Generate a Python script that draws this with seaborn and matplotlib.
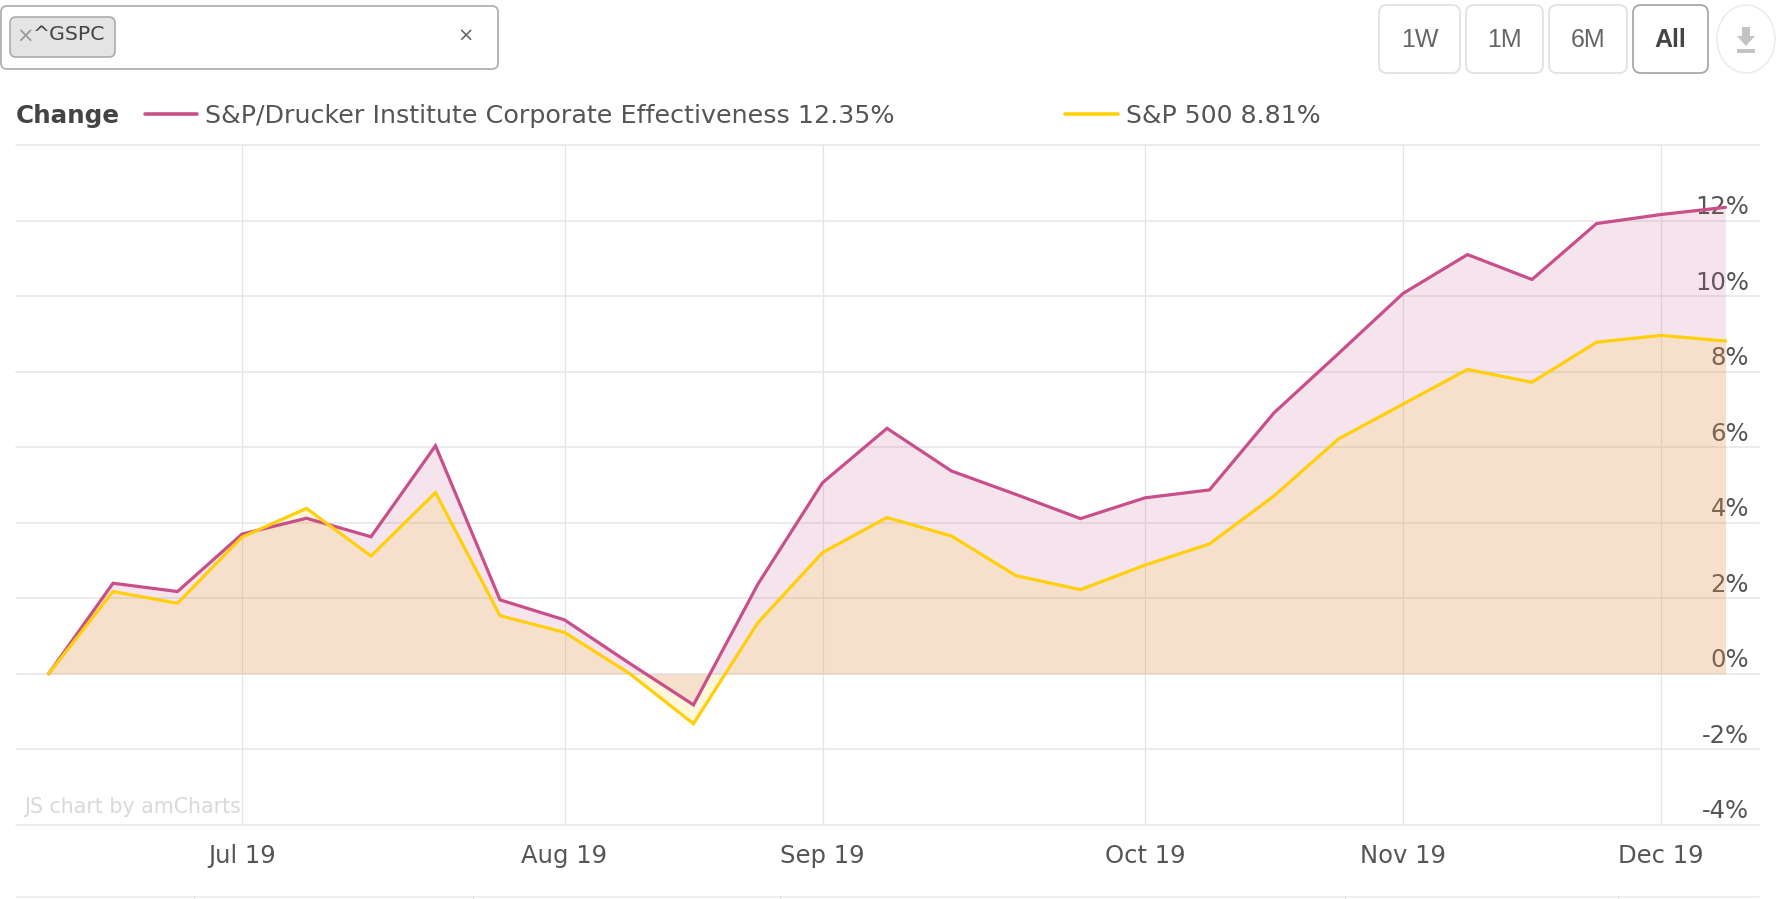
import numpy as np
import pandas as pd
import seaborn as sns
import matplotlib
matplotlib.use("Agg")
import matplotlib.pyplot as plt
from matplotlib.lines import Line2D
from matplotlib.patches import FancyBboxPatch, Ellipse, Polygon, Rectangle
from matplotlib.transforms import ScaledTranslation

drucker_name = "S&P/Drucker Institute Corporate Effectiveness"
sp500_name = "S&P 500"
drucker = [0, 2.40, 2.18, 3.70, 4.12, 3.63, 6.04, 1.96, 1.43, 0.29, -0.82, 2.38, 5.06, 6.50,
           5.37, 4.75, 4.11, 4.66, 4.87, 6.91, 8.48, 10.07, 11.10, 10.44, 11.92, 12.16, 12.35]
sp500 = [0, 2.18, 1.87, 3.62, 4.38, 3.12, 4.80, 1.54, 1.10, 0.02, -1.32, 1.36, 3.21, 4.14,
         3.65, 2.60, 2.23, 2.88, 3.44, 4.71, 6.22, 7.14, 8.06, 7.72, 8.78, 8.96, 8.81]
month_labels = ["Jul 19", "Aug 19", "Sep 19", "Oct 19", "Nov 19", "Dec 19"]
month_weeks = [3, 8, 12, 17, 21, 25]
y_ticks = [-4, -2, 0, 2, 4, 6, 8, 10, 12, 14]
y_labels = ["-4%", "-2%", "0%", "2%", "4%", "6%", "8%", "10%", "12%", ""]
range_buttons = ["1W", "1M", "6M", "All"]

PINK, YELLOW = "#c94f8b", "#ffcf0a"
TEXT, GRID = "#555555", "#e8e8e8"
W, H = 1779, 899
FS = 17.5
AX_L, AX_R = 16, 1759
X0, STEP = 48.5, 64.5

sns.set_theme(style="white")
plt.rcParams["font.family"] = ["DejaVu Sans"]
fig = plt.figure(figsize=(W / 100, H / 100), dpi=100, facecolor="white")
ax = fig.add_axes([AX_L / W, 1 - 825 / H, (AX_R - AX_L) / W, (825 - 145) / H])

weeks = np.arange(len(drucker))
df = pd.DataFrame({
    "week": np.concatenate([weeks, weeks]),
    "change": drucker + sp500,
    "series": [drucker_name] * len(weeks) + [sp500_name] * len(weeks),
})
ax.fill_between(weeks, drucker, 0, color=PINK, alpha=0.15, lw=0, zorder=2)
ax.fill_between(weeks, sp500, 0, color=YELLOW, alpha=0.15, lw=0, zorder=2.1)
sns.lineplot(data=df, x="week", y="change", hue="series", hue_order=[drucker_name, sp500_name],
             palette=[PINK, YELLOW], linewidth=2.3, legend=False, ax=ax, zorder=3,
             errorbar=None, solid_joinstyle="miter")

ax.set_xlim((AX_L - X0) / STEP, (AX_R - X0) / STEP)
ax.set_ylim(-4, 14)
ax.set_xlabel("")
ax.set_ylabel("")
for s in ax.spines.values():
    s.set_visible(False)
ax.set_axisbelow(True)
ax.set_xticks(month_weeks, month_labels)
ax.yaxis.tick_right()
ax.set_yticks(y_ticks, y_labels)
ax.xaxis.grid(True, color="#e4e4e4", lw=0.9)
ax.yaxis.grid(True, color=GRID, lw=1.2)
for line in ax.get_ygridlines():
    line.set_clip_on(False)
ax.tick_params(axis="x", length=0, pad=13.5, labelsize=FS, labelcolor=TEXT)
ax.tick_params(axis="y", length=0, pad=-7.2, labelsize=FS, labelcolor=TEXT)
offset = ScaledTranslation(0, 16 / 100, fig.dpi_scale_trans)
for lbl in ax.get_yticklabels():
    lbl.set_ha("right")
    lbl.set_zorder(5)
    lbl.set_transform(lbl.get_transform() + offset)

# Page furniture, placed in pixel coordinates of the figure
chrome = fig.add_axes([0, 0, 1, 1], zorder=10)
chrome.set_xlim(0, W)
chrome.set_ylim(H, 0)
chrome.axis("off")
chrome.patch.set_alpha(0)


def rbox(x0, y0, x1, y1, r, ec, fc="white", lw=1.0):
    chrome.add_patch(FancyBboxPatch((x0 + r, y0 + r), x1 - x0 - 2 * r, y1 - y0 - 2 * r,
                                    boxstyle=f"round,pad={r},rounding_size={r}",
                                    ec=ec, fc=fc, lw=lw))


rbox(1, 6, 498, 69, 6, "#b5b5b5", lw=1.4)
rbox(10, 17, 115, 57, 6, "#ababab", fc="#e4e4e4", lw=1.2)
chrome.text(25, 37, "×", color="#999999", fontsize=15, ha="center", va="center")
chrome.text(33, 35, "^GSPC", color="#444444", fontsize=14.7, ha="left", va="center")
chrome.text(466, 36, "×", color="#666666", fontsize=14, ha="center", va="center")

button_spans = [(1379, 1460), (1466, 1543), (1549, 1627), (1633, 1708)]
for label, (x0, x1) in zip(range_buttons, button_spans):
    active = label == "All"
    rbox(x0, 5, x1, 73, 8, "#a8a8a8" if active else "#e2e2e2", lw=1.3)
    chrome.text((x0 + x1) / 2, 40, label, family="Liberation Sans", fontsize=18,
                color="#444444" if active else "#666666",
                fontweight="bold" if active else "normal", ha="center", va="center")
chrome.add_patch(Ellipse((1746, 39), 58, 68, ec="#ececec", fc="white", lw=1.2))
chrome.add_patch(Polygon([(1742, 27), (1750, 27), (1750, 36), (1755, 36), (1746, 46), (1737, 36), (1742, 36)],
                         fc="#c4c4c4", ec="none"))
chrome.add_patch(Rectangle((1737, 49), 18, 4, fc="#c4c4c4", ec="none"))

chrome.text(16, 116, "Change", color="#444444", fontsize=17.7, fontweight="bold", ha="left", va="center")
chrome.add_line(Line2D([145, 197], [114, 114], color=PINK, lw=2.6))
chrome.text(205, 116, f"{drucker_name} {drucker[-1]:.2f}%", color=TEXT, fontsize=18.25, ha="left", va="center")
chrome.add_line(Line2D([1065, 1118], [114, 114], color=YELLOW, lw=2.6))
chrome.text(1126, 116, f"{sp500_name} {sp500[-1]:.2f}%", color=TEXT, fontsize=18.05, ha="left", va="center")

chrome.text(24, 807, "JS chart by amCharts", color="#d9d9d9", fontsize=14.8, ha="left", va="center")

chrome.add_line(Line2D([AX_L, AX_R], [896.5, 896.5], color="#ececec", lw=1.2))
for x in (194, 473, 780, 1345, 1618):
    chrome.add_line(Line2D([x, x], [896, 899], color="#e4e4e4", lw=0.9))

fig.savefig("out.png", dpi=100)
